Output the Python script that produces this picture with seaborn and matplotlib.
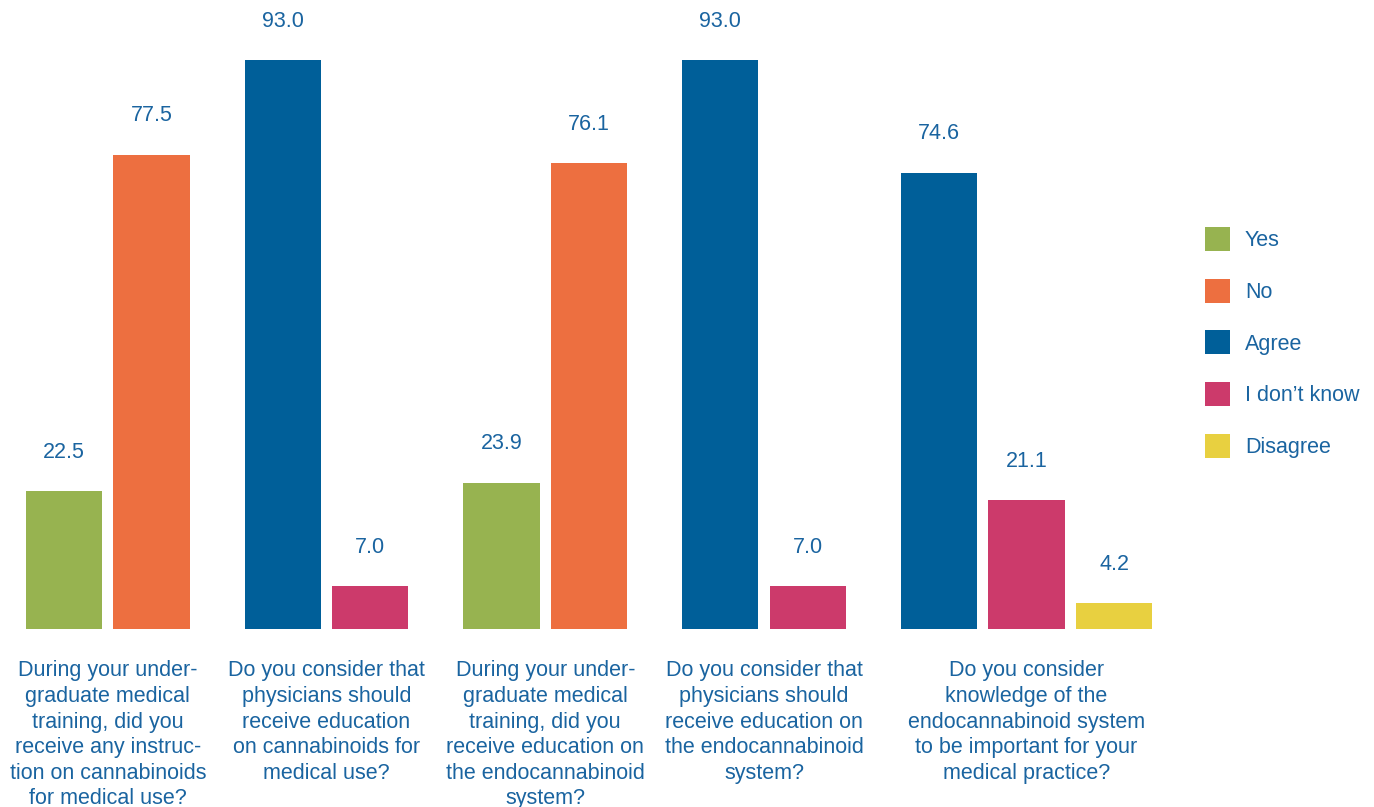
import matplotlib
matplotlib.use("Agg")
import matplotlib.pyplot as plt
import seaborn as sns
import pandas as pd

# Survey questions and answers
questions = [
    "During your under-\ngraduate medical\ntraining, did you\nreceive any instruc-\ntion on cannabinoids\nfor medical use?",
    "Do you consider that\nphysicians should\nreceive education\non cannabinoids for\nmedical use?",
    "During your under-\ngraduate medical\ntraining, did you\nreceive education on\nthe endocannabinoid\nsystem?",
    "Do you consider that\nphysicians should\nreceive education on\nthe endocannabinoid\nsystem?",
    "Do you consider\nknowledge of the\nendocannabinoid system\nto be important for your\nmedical practice?",
]
answers = [
    ["Yes", "No"],
    ["Agree", "I don\u2019t know"],
    ["Yes", "No"],
    ["Agree", "I don\u2019t know"],
    ["Agree", "I don\u2019t know", "Disagree"],
]
percentages = [
    [22.5, 77.5],
    [93.0, 7.0],
    [23.9, 76.1],
    [93.0, 7.0],
    [74.6, 21.1, 4.2],
]
response_order = ["Yes", "No", "Agree", "I don\u2019t know", "Disagree"]
palette = ["#97b350", "#ed6f40", "#005f99", "#cc3a6b", "#e8d040"]

TEXT = "#1a64a0"
FS = 15.5
GROUP_STEP = 2.5

rows = []
for g, (ans, vals) in enumerate(zip(answers, percentages)):
    for k, (a, v) in enumerate(zip(ans, vals)):
        rows.append({"pos": g * GROUP_STEP + k, "value": v, "response": a, "group": g})
df = pd.DataFrame(rows)

sns.set_theme(style="white")
plt.rcParams["font.family"] = ["Liberation Sans", "DejaVu Sans"]

fig = plt.figure(figsize=(13.74, 8.07), dpi=100)
ax = fig.add_axes([0, 0, 1, 1])

sns.barplot(
    data=df, x="pos", y="value", hue="response", hue_order=response_order,
    palette=palette, native_scale=True, dodge=False, width=0.87,
    saturation=1, linewidth=0, ax=ax,
)

ax.set_xlim(-64 / 87.5, (1374 - 64) / 87.5)
ax.set_ylim(-(807 - 629) / 6.118, 629 / 6.118)
ax.axis("off")

# value labels above each bar
for _, r in df.iterrows():
    ax.annotate(f"{r['value']:.1f}", (r["pos"], r["value"]),
                xytext=(0, 28), textcoords="offset points",
                ha="center", va="center", fontsize=FS, color=TEXT)

# question text under each group
for g, q in enumerate(questions):
    grp = df[df["group"] == g]["pos"]
    cx = (grp.min() + grp.max()) / 2
    ax.annotate(q, (cx, 0), xytext=(0, -22.5), textcoords="offset points",
                ha="center", va="top", fontsize=FS, color=TEXT, linespacing=1.29)

handles, labels = ax.get_legend_handles_labels()
ax.legend(
    handles, labels, loc="center left", bbox_to_anchor=(1205 / 1374, 1 - 342.5 / 807),
    frameon=False, fontsize=FS, labelcolor=TEXT, borderaxespad=0, borderpad=0,
    handlelength=1.16, handleheight=1.33, handletextpad=0.7, labelspacing=1.28,
)

fig.savefig("out.png", dpi=100)
